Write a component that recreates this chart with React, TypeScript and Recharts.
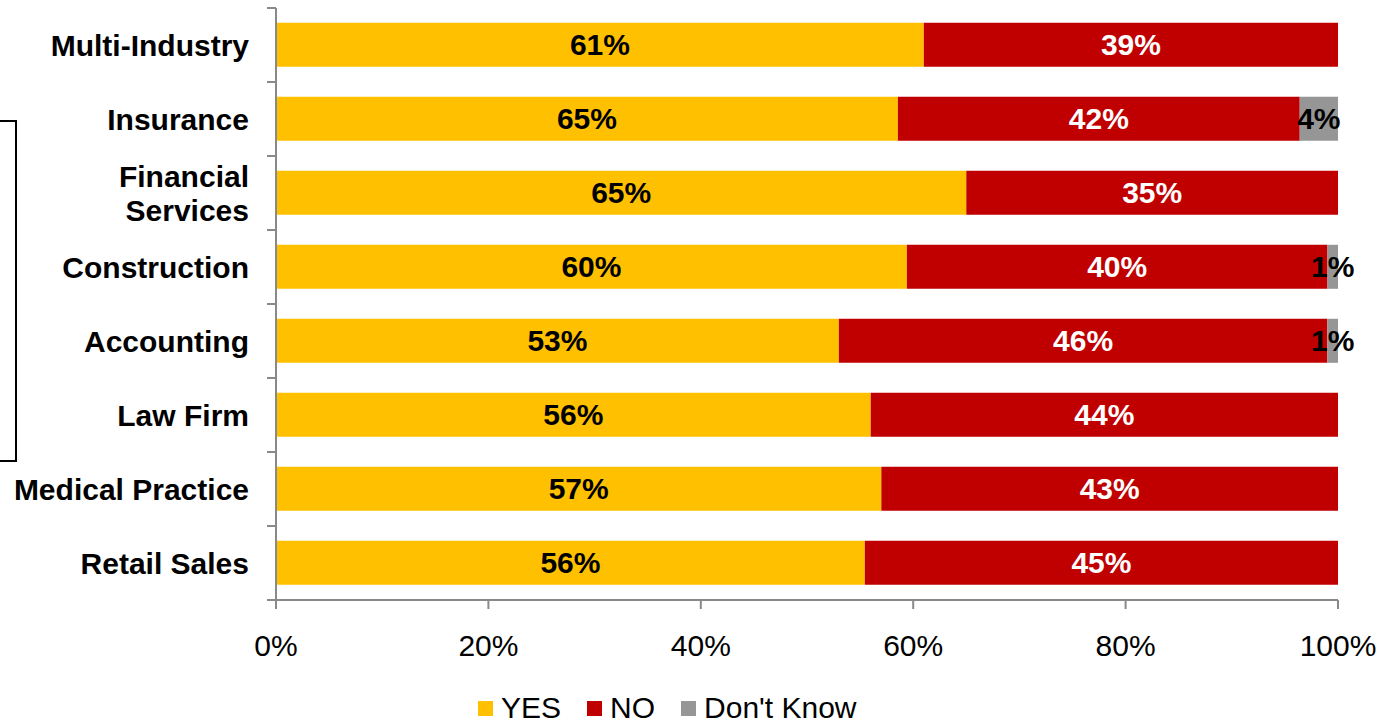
import React from "react";
import { BarChart, Bar, XAxis, YAxis, Legend, LabelList } from "recharts";

// survey answers per industry (percent, as printed on the bars)
const industries = [
  "Multi-Industry",
  "Insurance",
  "Financial\nServices",
  "Construction",
  "Accounting",
  "Law Firm",
  "Medical Practice",
  "Retail Sales",
];
const yesValues = [61, 65, 65, 60, 53, 56, 57, 56];
const noValues = [39, 42, 35, 40, 46, 44, 43, 45];
const dontKnowValues = [0, 4, 0, 1, 1, 0, 0, 0];

const xTicks = [0, 0.2, 0.4, 0.6, 0.8, 1];

const seriesInfo = [
  { key: "yes", name: "YES", color: "#FFC000" },
  { key: "no", name: "NO", color: "#C00000" },
  { key: "dk", name: "Don't Know", color: "#969696" },
];

const data = industries.map((name, i) => ({
  name,
  yes: yesValues[i],
  no: noValues[i],
  dk: dontKnowValues[i],
}));

const FONT = "'Liberation Sans', Arial, sans-serif";
const FS = 30;
const AXIS_GRAY = "#898989";
const Y_TICK_MARGIN = 27;

function CategoryTick(props: any) {
  const { x, y, payload } = props;
  const lines = String(payload.value).split("\n");
  const axisX = x + Y_TICK_MARGIN;
  const half = payload.offset ?? 0;
  const lineH = 34;
  const startY = y - ((lines.length - 1) * lineH) / 2;
  return (
    <g>
      <line x1={axisX - 9} x2={axisX} y1={y - half} y2={y - half} stroke={AXIS_GRAY} strokeWidth={2} />
      <line x1={axisX - 9} x2={axisX} y1={y + half} y2={y + half} stroke={AXIS_GRAY} strokeWidth={2} />
      <text
        x={x}
        y={startY}
        textAnchor="end"
        dominantBaseline="central"
        fontFamily={FONT}
        fontSize={FS}
        fontWeight="bold"
        fill="#000"
      >
        {lines.map((l, i) => (
          <tspan key={i} x={x} dy={i === 0 ? 0 : lineH}>
            {l}
          </tspan>
        ))}
      </text>
    </g>
  );
}

function LegendContent() {
  return (
    <div
      style={{
        display: "flex",
        alignItems: "center",
        height: 30,
        paddingLeft: 478,
        fontFamily: FONT,
        fontSize: FS,
        color: "#000",
      }}
    >
      {seriesInfo.map((s) => (
        <div key={s.key} style={{ display: "flex", alignItems: "center", marginRight: 26 }}>
          <span style={{ width: 15, height: 15, background: s.color, marginRight: 8, display: "inline-block" }} />
          <span>{s.name}</span>
        </div>
      ))}
    </div>
  );
}

const pct = (v: any) => (v ? `${v}%` : "");

export default function App() {
  return (
    <div style={{ position: "absolute", left: 0, top: 0, width: 1390, height: 723, background: "#fff" }}>
      <div
        style={{
          position: "absolute",
          left: 0,
          top: 120,
          width: 17,
          height: 342,
          boxSizing: "border-box",
          borderTop: "2px solid #000",
          borderRight: "2px solid #000",
          borderBottom: "2px solid #000",
        }}
      />
      <BarChart
        width={1390}
        height={723}
        data={data}
        layout="vertical"
        stackOffset="expand"
        barCategoryGap="20%"
        margin={{ top: 8, right: 52, bottom: 0, left: 0 }}
      >
        <XAxis
          type="number"
          domain={[0, 1]}
          ticks={xTicks}
          tickFormatter={(v: number) => `${Math.round(v * 100)}%`}
          axisLine={{ stroke: AXIS_GRAY, strokeWidth: 2 }}
          tickLine={{ stroke: AXIS_GRAY, strokeWidth: 2 }}
          tickSize={9}
          tickMargin={26}
          height={93}
          tick={{ fill: "#000", fontSize: FS, fontFamily: FONT }}
        />
        <YAxis
          type="category"
          dataKey="name"
          width={276}
          axisLine={{ stroke: AXIS_GRAY, strokeWidth: 2 }}
          tickLine={false}
          tickSize={0}
          tickMargin={Y_TICK_MARGIN}
          tick={<CategoryTick />}
          interval={0}
        />
        <Legend verticalAlign="bottom" height={30} content={<LegendContent />} />
        <Bar dataKey="yes" name="YES" stackId="a" fill="#FFC000" isAnimationActive={false}>
          <LabelList dataKey="yes" position="center" formatter={pct} fill="#000" fontSize={FS} fontWeight="bold" fontFamily={FONT} />
        </Bar>
        <Bar dataKey="no" name="NO" stackId="a" fill="#C00000" isAnimationActive={false}>
          <LabelList dataKey="no" position="center" formatter={pct} fill="#fff" fontSize={FS} fontWeight="bold" fontFamily={FONT} />
        </Bar>
        <Bar dataKey="dk" name="Don't Know" stackId="a" fill="#969696" isAnimationActive={false}>
          <LabelList dataKey="dk" position="center" formatter={pct} fill="#000" fontSize={FS} fontWeight="bold" fontFamily={FONT} />
        </Bar>
      </BarChart>
    </div>
  );
}
